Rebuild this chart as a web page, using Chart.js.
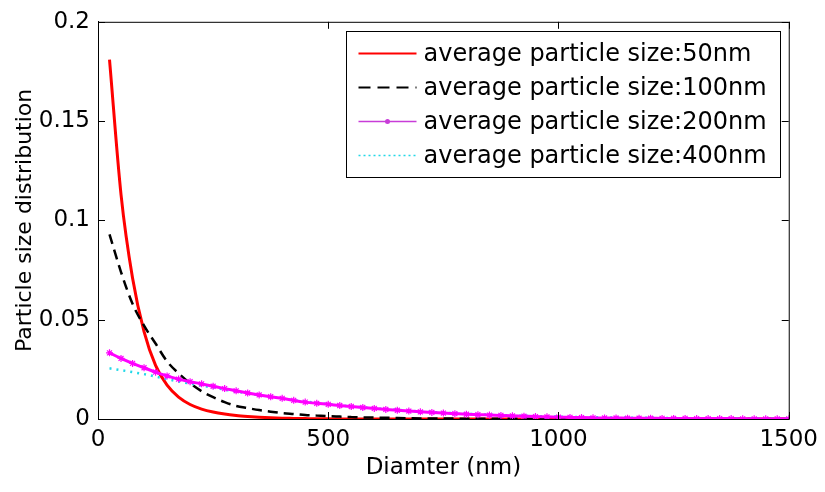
<!DOCTYPE html>
<html>
<head>
<meta charset="utf-8">
<script src="https://cdn.jsdelivr.net/npm/chart.js@4.4.1/dist/chart.umd.min.js"></script>
<style>
  html, body { margin: 0; padding: 0; background: #fff; }
  #wrap { width: 825px; height: 492px; }
</style>
</head>
<body>
<div id="wrap"><canvas id="chart" width="825" height="492"></canvas></div>
<script>
// diameters (nm) shared by all four curves
const diameters = [25, 50, 75, 100, 125, 150, 175, 200, 225, 250, 275, 300, 325, 350, 375, 400,
  425, 450, 475, 500, 525, 550, 575, 600, 625, 650, 675, 700, 725, 750, 775, 800,
  825, 850, 875, 900, 925, 950, 975, 1000, 1025, 1050, 1075, 1100, 1125, 1150, 1175, 1200,
  1225, 1250, 1275, 1300, 1325, 1350, 1375, 1400, 1425, 1450, 1475, 1500];

// average particle size 50nm
const size50 = [0.181, 0.113, 0.071, 0.044, 0.027, 0.017, 0.011, 0.0073, 0.005, 0.0035, 0.0025, 0.0018,
  0.0013, 0.0009, 0.0006, 0.0004, 0.0003, 0.0002, 0.0001, 0.0001, 0, 0, 0, 0, 0, 0, 0, 0, 0, 0, 0, 0,
  0, 0, 0, 0, 0, 0, 0, 0, 0, 0, 0, 0, 0, 0, 0, 0, 0, 0, 0, 0, 0, 0, 0, 0, 0, 0, 0, 0];

// average particle size 100nm
const size100 = [0.093, 0.074, 0.058, 0.047, 0.038, 0.029, 0.023, 0.018, 0.014, 0.011, 0.0085, 0.0066,
  0.0055, 0.0045, 0.0037, 0.003, 0.0025, 0.002, 0.0017, 0.0014, 0.0012, 0.001, 0.0008, 0.0007, 0.0006,
  0.0005, 0.0004, 0.0003, 0.0003, 0.0002, 0.0002, 0.0001, 0.0001, 0.0001, 0.0001, 0.0001, 0.0001, 0.0001,
  0.0001, 0.0001, 0, 0, 0, 0, 0, 0, 0, 0, 0, 0, 0, 0, 0, 0, 0, 0, 0, 0, 0, 0];

// average particle size 200nm
const size200 = [0.0333, 0.0305, 0.028, 0.0258, 0.0236, 0.0217, 0.0201, 0.0188, 0.0177, 0.0165, 0.0153,
  0.0142, 0.0131, 0.0121, 0.0112, 0.0104, 0.0094, 0.0085, 0.0079, 0.0074, 0.0068, 0.0063, 0.0058, 0.0053,
  0.0048, 0.0044, 0.004, 0.0036, 0.0033, 0.003, 0.0027, 0.0024, 0.0022, 0.002, 0.0018, 0.0016, 0.0014,
  0.0012, 0.0011, 0.0009, 0.0008, 0.0007, 0.0006, 0.0005, 0.0005, 0.0004, 0.0004, 0.0004, 0.0003, 0.0003,
  0.0003, 0.0002, 0.0002, 0.0002, 0.0002, 0.0001, 0.0001, 0.0001, 0.0001, 0.0001];

// average particle size 400nm
const size400 = [0.0255, 0.0246, 0.0236, 0.0226, 0.0214, 0.0201, 0.0189, 0.0178, 0.0168, 0.0158, 0.0148,
  0.0138, 0.0129, 0.012, 0.0111, 0.0103, 0.0095, 0.0088, 0.0081, 0.0075, 0.0069, 0.0064, 0.0059, 0.0054,
  0.005, 0.0046, 0.0042, 0.0038, 0.0035, 0.0032, 0.0029, 0.0026, 0.0024, 0.0022, 0.002, 0.0018, 0.0016,
  0.0015, 0.0013, 0.0012, 0.0011, 0.001, 0.0009, 0.0008, 0.0008, 0.0007, 0.0006, 0.0006, 0.0005, 0.0005,
  0.0004, 0.0004, 0.0004, 0.0003, 0.0003, 0.0003, 0.0002, 0.0002, 0.0002, 0.0002];

const seriesLabels = ['average particle size:50nm', 'average particle size:100nm',
  'average particle size:200nm', 'average particle size:400nm'];

const xTickValues = [0, 500, 1000, 1500];
const xTickLabels = ['0', '500', '1000', '1500'];
const yTickValues = [0, 0.05, 0.1, 0.15, 0.2];
const yTickLabels = ['0', '0.05', '0.1', '0.15', '0.2'];

function toPoints(values) {
  return values.map((v, i) => ({ x: diameters[i], y: v }));
}

Chart.defaults.font.family = 'DejaVu Sans';
Chart.defaults.color = '#000';

// MATLAB style box: inward ticks on all four sides + legend inside the axes
const matlabBox = {
  id: 'matlabBox',
  afterDraw(chart) {
    const ctx = chart.ctx;
    const a = chart.chartArea;
    const xs = chart.scales.x, ys = chart.scales.y;
    const tl = 7;
    ctx.save();
    ctx.strokeStyle = '#000';
    ctx.lineWidth = 1;
    ctx.strokeRect(a.left + 0.5, a.top + 0.5, a.right - a.left, a.bottom - a.top);
    ctx.beginPath();
    xTickValues.forEach(v => {
      const px = Math.round(xs.getPixelForValue(v)) + 0.5;
      ctx.moveTo(px, a.bottom); ctx.lineTo(px, a.bottom - tl);
      ctx.moveTo(px, a.top); ctx.lineTo(px, a.top + tl);
    });
    yTickValues.forEach(v => {
      const py = Math.round(ys.getPixelForValue(v)) + 0.5;
      ctx.moveTo(a.left, py); ctx.lineTo(a.left + tl, py);
      ctx.moveTo(a.right, py); ctx.lineTo(a.right - tl, py);
    });
    ctx.stroke();

    // legend
    const bw = 434, bh = 146;
    const bx = Math.round(a.right - 9 - bw) + 0.5;
    const by = Math.round(a.top + 9) + 0.5;
    ctx.fillStyle = '#fff';
    ctx.fillRect(bx, by, bw, bh);
    ctx.strokeRect(bx, by, bw, bh);
    ctx.font = '24px "DejaVu Sans"';
    ctx.textBaseline = 'middle';
    ctx.textAlign = 'left';
    chart.data.datasets.forEach((ds, i) => {
      const y = by + 22 + i * 34;
      const x0 = bx + 12, x1 = bx + 70;
      ctx.save();
      ctx.strokeStyle = ds.legendColor || ds.borderColor;
      ctx.lineWidth = ds.legendWidth;
      ctx.setLineDash(ds.legendDash || []);
      ctx.beginPath();
      ctx.moveTo(x0, y); ctx.lineTo(x1, y);
      ctx.stroke();
      if (ds.legendMarker) {
        ctx.fillStyle = ds.legendColor || ds.borderColor;
        ctx.beginPath();
        ctx.arc((x0 + x1) / 2, y, 2.5, 0, Math.PI * 2);
        ctx.fill();
      }
      ctx.restore();
      ctx.fillStyle = '#000';
      ctx.fillText(ds.label, bx + 77, y + 1);
    });
    ctx.restore();
  }
};

new Chart(document.getElementById('chart'), {
  type: 'line',
  data: {
    datasets: [
      {
        label: seriesLabels[0], data: toPoints(size50),
        borderColor: '#ff0000', borderWidth: 3, pointRadius: 0,
        cubicInterpolationMode: 'monotone', order: 3,
        legendWidth: 2
      },
      {
        label: seriesLabels[1], data: toPoints(size100),
        borderColor: '#000000', borderWidth: 2.5, borderDash: [10, 6], pointRadius: 0,
        cubicInterpolationMode: 'monotone', order: 2,
        legendWidth: 2, legendDash: [12, 7]
      },
      {
        label: seriesLabels[2], data: toPoints(size200),
        borderColor: '#ff00ff', borderWidth: 3, pointRadius: 3.5, pointStyle: 'star',
        pointBorderColor: '#ff00ff', pointBackgroundColor: '#ff00ff', pointBorderWidth: 1.2,
        cubicInterpolationMode: 'monotone', order: 0,
        legendWidth: 1.6, legendMarker: true, legendColor: '#c83cd8'
      },
      {
        label: seriesLabels[3], data: toPoints(size400),
        borderColor: '#22d8e8', borderWidth: 2.5, borderDash: [2, 5], pointRadius: 0,
        cubicInterpolationMode: 'monotone', order: 1,
        legendWidth: 1.6, legendDash: [2, 3]
      }
    ]
  },
  options: {
    responsive: false,
    animation: false,
    devicePixelRatio: 1,
    layout: { padding: { top: 17, right: 33, left: 0, bottom: 0 } },
    plugins: {
      legend: { display: false },
      tooltip: { enabled: false }
    },
    scales: {
      x: {
        type: 'linear', min: 0, max: 1500,
        afterFit(scale) { scale.height = 73; },
        afterBuildTicks(scale) { scale.ticks = xTickValues.map(v => ({ value: v })); },
        grid: { display: false, drawTicks: false },
        border: { display: true, color: '#000', width: 1 },
        ticks: {
          padding: 7, maxRotation: 0, autoSkip: false,
          font: { size: 23 },
          callback: (v) => xTickLabels[xTickValues.indexOf(v)]
        },
        title: {
          display: true, text: 'Diamter (nm)',
          font: { size: 23 }, padding: { top: 0, bottom: 10 }
        }
      },
      y: {
        type: 'linear', min: 0, max: 0.2,
        afterFit(scale) { scale.width = 98; },
        afterBuildTicks(scale) { scale.ticks = yTickValues.map(v => ({ value: v })); },
        grid: { display: false, drawTicks: false },
        border: { display: true, color: '#000', width: 1 },
        ticks: {
          padding: 8, autoSkip: false,
          font: { size: 23 },
          callback: (v) => yTickLabels[yTickValues.indexOf(v)]
        },
        title: {
          display: true, text: 'Particle size distribution',
          font: { size: 22 }, padding: { top: 12, bottom: 0 }
        }
      }
    }
  },
  plugins: [matlabBox]
});
</script>
</body>
</html>
